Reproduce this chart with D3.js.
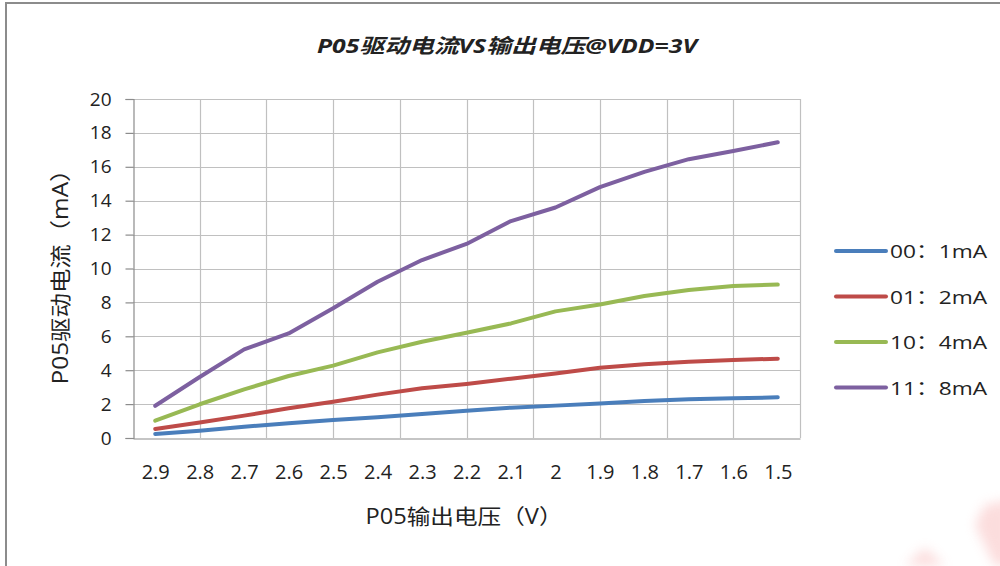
<!DOCTYPE html>
<html>
<head>
<meta charset="utf-8">
<script src="https://cdn.jsdelivr.net/npm/d3@7"></script>
<style>
  html, body { margin: 0; padding: 0; background: #fff; }
  svg { display: block; }
  text { font-family: "Open Sans", "Noto Sans CJK SC", sans-serif; fill: #222; }
</style>
</head>
<body>
<svg id="chart" width="1000" height="566"></svg>
<script>
// Output voltage steps (V) along the horizontal axis
const voltages = ["2.9", "2.8", "2.7", "2.6", "2.5", "2.4", "2.3", "2.2", "2.1", "2", "1.9", "1.8", "1.7", "1.6", "1.5"];

// Drive current (mA) for each drive-strength setting
const series00 = [0.24, 0.43, 0.67, 0.87, 1.06, 1.22, 1.42, 1.61, 1.79, 1.91, 2.04, 2.18, 2.28, 2.34, 2.40];
const series01 = [0.53, 0.92, 1.32, 1.75, 2.14, 2.56, 2.93, 3.19, 3.50, 3.81, 4.15, 4.35, 4.50, 4.60, 4.68];
const series10 = [1.02, 1.99, 2.87, 3.66, 4.27, 5.05, 5.68, 6.21, 6.76, 7.47, 7.88, 8.38, 8.73, 8.97, 9.05];
const series11 = [1.90, 3.60, 5.23, 6.17, 7.65, 9.22, 10.50, 11.45, 12.80, 13.60, 14.80, 15.70, 16.45, 16.93, 17.45];

const seriesNames = ["00：1mA", "01：2mA", "10：4mA", "11：8mA"];
const seriesColors = ["#4a7ebb", "#be4b48", "#98b954", "#7d60a0"];
const yTicks = [0, 2, 4, 6, 8, 10, 12, 14, 16, 18, 20];

const titleText = "P05驱动电流VS输出电压@VDD=3V";
const yTitle = "P05驱动电流（mA）";
const xTitle = "P05输出电压（V）";

const allSeries = [series00, series01, series10, series11];

const svg = d3.select("#chart");

// soft watermark fragments in the lower right corner
const defs = svg.append("defs");
defs.append("filter").attr("id", "soft")
  .attr("x", "-50%").attr("y", "-50%").attr("width", "200%").attr("height", "200%")
  .append("feGaussianBlur").attr("stdDeviation", 6);
const wm = svg.append("g").attr("filter", "url(#soft)").attr("fill", "#f8b4b4").attr("opacity", 0.45);
wm.append("path").attr("d", "M985,505 L1010,500 L1010,566 L995,566 L975,525 Z");
wm.append("path").attr("d", "M905,566 L925,548 L945,566 Z");

// chart frame
svg.append("path")
  .attr("d", "M6,566 L6,3 L1000,3")
  .attr("fill", "none").attr("stroke", "#8c8c8c").attr("stroke-width", 2);

const plot = { left: 133, right: 800, top: 99, bottom: 438 };

const x = d3.scalePoint()
  .domain(voltages)
  .range([plot.left, plot.right])
  .padding(0.5);

const y = d3.scaleLinear()
  .domain([0, 20])
  .range([plot.bottom, plot.top]);

// vertical grid divisions
const gx = d3.scaleLinear().domain([0, 10]).range([plot.left, plot.right]);

const grid = svg.append("g").attr("stroke", "#c0c0c0").attr("stroke-width", 1.2);
grid.selectAll("line.h").data(yTicks.slice(1)).join("line")
  .attr("x1", plot.left).attr("x2", plot.right)
  .attr("y1", d => Math.round(y(d)) + 0.5).attr("y2", d => Math.round(y(d)) + 0.5);
grid.selectAll("line.v").data(d3.range(1, 11)).join("line")
  .attr("y1", plot.top).attr("y2", plot.bottom)
  .attr("x1", d => Math.round(gx(d)) + 0.5).attr("x2", d => Math.round(gx(d)) + 0.5);

// y axis
const yAxis = svg.append("g")
  .attr("transform", `translate(${plot.left + 0.5},0)`)
  .call(d3.axisLeft(y).tickValues(yTicks).tickSize(8).tickPadding(14));
yAxis.select(".domain").attr("stroke", "#8c8c8c").attr("stroke-width", 1.2);
yAxis.selectAll(".tick line").attr("stroke", "#8c8c8c").attr("stroke-width", 1.2);
yAxis.selectAll(".tick text").attr("font-size", 19).attr("fill", "#2a2a2a")
  .style("font-family", "'Open Sans', sans-serif");

// x axis
const xAxis = svg.append("g")
  .attr("transform", `translate(0,${plot.bottom + 0.5})`)
  .call(d3.axisBottom(x).tickSize(0).tickPadding(26));
xAxis.select(".domain").attr("stroke", "#8c8c8c").attr("stroke-width", 1.2);
xAxis.selectAll(".tick text").attr("font-size", 20).attr("fill", "#2a2a2a")
  .style("font-family", "'Open Sans', sans-serif");

// series lines
const line = d3.line()
  .x((d, i) => x(voltages[i]))
  .y(d => y(d));

svg.append("g").selectAll("path").data(allSeries).join("path")
  .attr("d", d => line(d))
  .attr("fill", "none")
  .attr("stroke", (d, i) => seriesColors[i])
  .attr("stroke-width", 4)
  .attr("stroke-linecap", "round")
  .attr("stroke-linejoin", "round");

// title
svg.append("text")
  .attr("x", 507).attr("y", 53)
  .attr("text-anchor", "middle")
  .attr("font-size", 20).attr("font-weight", "bold").attr("font-style", "italic")
  .attr("textLength", 380).attr("lengthAdjust", "spacingAndGlyphs")
  .text(titleText);

// axis titles
svg.append("text")
  .attr("transform", "translate(68,271) rotate(-90)")
  .attr("text-anchor", "middle")
  .attr("font-size", 21)
  .attr("textLength", 227).attr("lengthAdjust", "spacingAndGlyphs")
  .text(yTitle);

svg.append("text")
  .attr("x", 464).attr("y", 524)
  .attr("text-anchor", "middle")
  .attr("font-size", 21)
  .attr("textLength", 197).attr("lengthAdjust", "spacingAndGlyphs")
  .text(xTitle);

// legend
const legend = svg.append("g").attr("transform", "translate(836,251)");
const items = legend.selectAll("g").data(seriesNames).join("g")
  .attr("transform", (d, i) => `translate(0,${i * 45.5})`);
items.append("line")
  .attr("x1", 0).attr("x2", 50).attr("y1", 0).attr("y2", 0)
  .attr("stroke", (d, i) => seriesColors[i])
  .attr("stroke-width", 4).attr("stroke-linecap", "round");
items.append("text")
  .attr("x", 54).attr("y", 7)
  .attr("font-size", 19)
  .attr("textLength", 97).attr("lengthAdjust", "spacingAndGlyphs")
  .text(d => d);
</script>
</body>
</html>
